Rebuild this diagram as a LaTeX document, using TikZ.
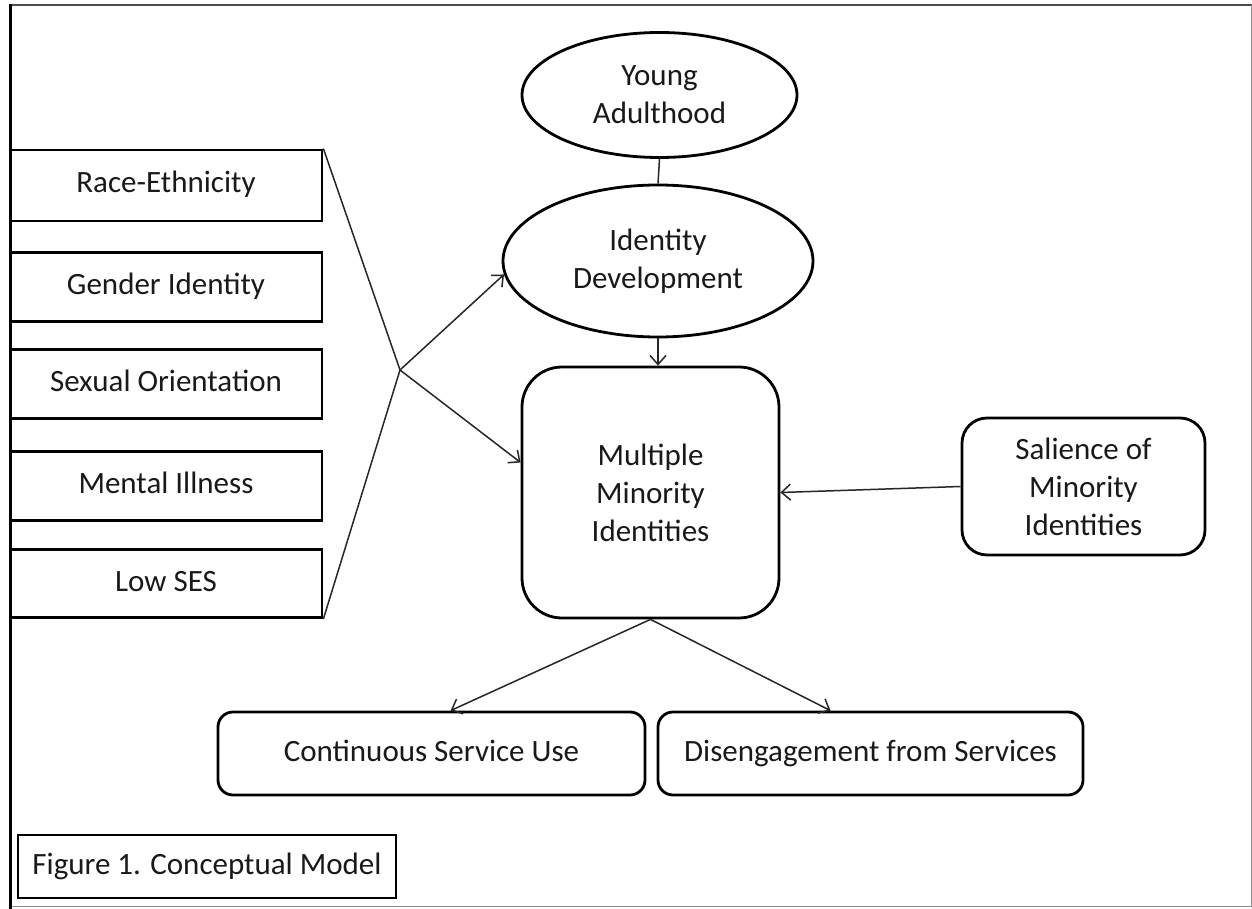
\documentclass[tikz,border=0pt]{standalone}
\usepackage{fontspec}
\setmainfont{Carlito}
\usetikzlibrary{shapes.geometric,arrows.meta}
\tikzset{
  txt/.style={font=\fontsize{31}{38}\selectfont, text=black!90, align=center, inner sep=0pt},
  one/.style={text height=22pt, text depth=7pt},
  sqbox/.style={txt, draw, line width=2.8pt, rectangle},
  rbox/.style={txt, draw, line width=2.8pt, rectangle, rounded corners=#1},
  ell/.style={txt, draw, line width=2.8pt, ellipse},
  conn/.style={line width=1.5pt, draw=black!85},
  arr/.style={conn, -{Straight Barb[length=9pt,width=16pt,line width=1.5pt]}}
}
\begin{document}
\begin{tikzpicture}[x=1pt,y=-1pt]
\useasboundingbox (0,0) rectangle (1252,909);
% outer frame
\draw[line width=2pt, draw=black!70] (10,5) -- (1252,5);
\draw[line width=1pt, draw=black!45] (1251,5) -- (1251,906) -- (10,906);
\draw[line width=3pt] (10,4) -- (10,909);

% nodes
\node[ell, minimum width=275pt, minimum height=125pt] (ya) at (659.5,95) {Young\\Adulthood};
\node[ell, minimum width=310pt, minimum height=152pt] (ident) at (658,261) {Identity\\Development};
\node[rbox=40pt, minimum width=257pt, minimum height=251pt] (mult) at (650.5,492.5) {Multiple\\Minority\\Identities};
\node[rbox=25pt, minimum width=243pt, minimum height=137pt] (sal) at (1083.5,486.5) {Salience of\\Minority\\Identities};

\node[sqbox, one, minimum width=312pt, minimum height=71pt] (race) at (166,185.5) {Race-Ethnicity};
\node[sqbox, one, minimum width=312pt, minimum height=69pt] (gender) at (166,287) {Gender Identity};
\node[sqbox, one, minimum width=312pt, minimum height=69pt] (sex) at (166,384) {Sexual Orientation};
\node[sqbox, one, minimum width=312pt, minimum height=69pt] (mental) at (166,486) {Mental Illness};
\node[sqbox, one, minimum width=312pt, minimum height=68pt] (low) at (166,583.5) {Low SES};

\node[rbox=15pt, one, minimum width=427pt, minimum height=83pt] (cont) at (431.5,753.5) {Continuous Service Use};
\node[rbox=15pt, one, minimum width=425pt, minimum height=83pt] (dis) at (870.5,753.5) {Disengagement from Services};

\node[sqbox, one, minimum width=378pt, minimum height=63pt] (fig) at (207,866.5) {Figure 1. Conceptual Model};

% connectors
\coordinate (J) at (400,370);
\draw[conn] (race.north east) -- (J);
\draw[conn] (low.south east) -- (J);
\draw[arr] (J) -- (ident.185);
\draw[arr] (J) -- (mult.167);
\draw[conn] (ya.south) -- (ident.north);
\draw[arr] (ident.south) -- (ident.south |- mult.north);
\draw[arr] (sal.west) -- (mult.east);
\draw[arr] (mult.south) -- (cont.66);
\draw[arr] (mult.south) -- (dis.133);
\end{tikzpicture}
\end{document}
